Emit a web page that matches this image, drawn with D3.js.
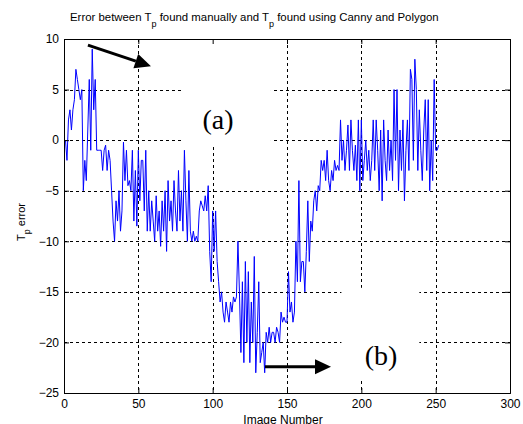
<!DOCTYPE html>
<html>
<head>
<meta charset="utf-8">
<script src="https://cdn.jsdelivr.net/npm/d3@7"></script>
<style>
  body { margin: 0; background: #fff; }
  text { font-family: "Liberation Sans", Arial, sans-serif; }
</style>
</head>
<body>
<div id="chart"></div>
<script>
// Tp error per image (image number = position + 1)
var tpError = [
  0, -2, 2, 3, 1, 3, 4, 7, 6, 5,
  4, 5, -5, -2, -4, 1, 6, -1, 9, 3,
  6, -1, -1, -1, -1, -3, -1, -0.5, -3, -1,
  -2, -5, -8, -10, -6, -8, -5, -9, -7, -0.2,
  -4, -1, -4.5, -4, -5, -1, -8, -3, -8.5, -1,
  -6, -2, -2, -7, -1, -9, -5, -9, -6, -8,
  -10, -5.5, -9, -7, -10.5, -6, -9, -5, -11, -4,
  -8, -6, -9, -4, -7, -9, -3, -8, -5, -9,
  -1, -6, -10, -3, -9, -10, -9, -10, -9.5, -10,
  -7, -6, -6.5, -7, -5.5, -7, -4.5, -11, -14, -7,
  -11, -7, -12, -14, -16, -15, -17, -18, -16, -17,
  -18, -16, -17, -15.5, -16, -15.5, -10, -15, -21, -14,
  -22, -12, -20, -13, -22, -16, -20, -11.5, -23, -19,
  -14, -22, -21, -20, -23, -19, -20, -18.5, -20, -19,
  -19, -20, -18.5, -19, -20, -17, -18, -17.5, -18, -18,
  -13, -17, -16, -18, -17, -10, -14, -4, -14, -12,
  -12, -15, -11, -6, -12, -8, -9, -6, -5, -7,
  -4.5, -5, -2, -3, -2, -4, -1, -4, -5, -3,
  -4, -2, -3, -2.5, -3, 2, -2, 0, -3, -1,
  1.5, -3, 2, -1, -3, -0.5, -4, 2, -5, 2,
  -4, -2, 0, -3, -1, -4, -2, 2, -3, 2,
  -1, -5, 1, -6, 2, -2, -4, 1, -3, 0,
  -4, 5, -2, 5, -5, 1, -3, 2, -6, -1,
  2, -3, 7, 6, -2, 8, 5, -3, 3, -1,
  -4, 1, 4, -3, 4, -5, 0, -4, 6, -1,
  -1, -0.5
];
var xTicks = [0, 50, 100, 150, 200, 250, 300];
var yTicks = [-25, -20, -15, -10, -5, 0, 5, 10];

var width = 523, height = 424;
var pl = 64, pr = 510, pt = 39, pb = 393;

var svg = d3.select("#chart").append("svg")
    .attr("width", width)
    .attr("height", height);

var x = d3.scaleLinear().domain([0, 300]).range([pl, pr]);
var y = d3.scaleLinear().domain([-25, 10]).range([pb, pt]);

// dotted grid
var grid = svg.append("g").attr("class", "grid");
grid.selectAll(".gx").data(xTicks.slice(1, -1)).enter().append("line")
    .attr("x1", function(d) { return Math.round(x(d)) + 0.5; })
    .attr("x2", function(d) { return Math.round(x(d)) + 0.5; })
    .attr("y1", pt).attr("y2", pb);
grid.selectAll(".gy").data(yTicks.slice(1, -1)).enter().append("line")
    .attr("x1", pl).attr("x2", pr)
    .attr("y1", function(d) { return Math.round(y(d)) + 0.5; })
    .attr("y2", function(d) { return Math.round(y(d)) + 0.5; });
grid.selectAll("line")
    .attr("stroke", "#000")
    .attr("stroke-width", 1)
    .attr("stroke-dasharray", "3,3");

// white boxes behind the annotation labels hide part of the grid
var boxes = [[78.7, 139.2, -0.5, 10], [186.6, 239, -14.6, -23.6]];
svg.selectAll(".box").data(boxes).enter().append("rect")
    .attr("x", function(d) { return x(d[0]); })
    .attr("width", function(d) { return x(d[1]) - x(d[0]); })
    .attr("y", function(d) { return y(Math.max(d[2], d[3])); })
    .attr("height", function(d) { return Math.abs(y(d[3]) - y(d[2])); })
    .attr("fill", "#fff");

// data line
var line = d3.line()
    .x(function(d, i) { return x(i + 1); })
    .y(function(d) { return y(d); });

svg.append("path")
    .datum(tpError)
    .attr("d", line)
    .attr("fill", "none")
    .attr("stroke", "#0000ff")
    .attr("stroke-width", 1);

// axes, ticks inside like matlab
svg.append("g")
    .attr("transform", "translate(0," + pb + ")")
    .call(d3.axisBottom(x).tickValues(xTicks).tickSize(-5).tickPadding(6));
svg.append("g")
    .attr("transform", "translate(0," + pt + ")")
    .call(d3.axisTop(x).tickValues(xTicks).tickSize(-5).tickFormat(""));
svg.append("g")
    .attr("transform", "translate(" + pl + ",0)")
    .call(d3.axisLeft(y).tickValues(yTicks).tickSize(-5).tickPadding(5));
svg.append("g")
    .attr("transform", "translate(" + pr + ",0)")
    .call(d3.axisRight(y).tickValues(yTicks).tickSize(-5).tickFormat(""));

svg.selectAll(".domain").attr("stroke", "#000");
svg.selectAll(".tick line").attr("stroke", "#000");
svg.selectAll(".tick text")
    .attr("fill", "#000")
    .attr("font-size", 12);

// title
var title = svg.append("text")
    .attr("x", 70).attr("y", 21)
    .attr("font-size", 11.4)
    .attr("fill", "#000");
title.append("tspan").text("Error between T");
title.append("tspan").attr("dy", 6).attr("font-size", 9).text("p");
title.append("tspan").attr("dy", -6).text(" found manually and T");
title.append("tspan").attr("dy", 6).attr("font-size", 9).text("p");
title.append("tspan").attr("dy", -6).text(" found using Canny and Polygon");

// axis labels
svg.append("text")
    .attr("x", (pl + pr) / 2 - 4).attr("y", 424)
    .attr("text-anchor", "middle")
    .attr("font-size", 12)
    .text("Image Number");

var ylab = svg.append("text")
    .attr("transform", "translate(25,222) rotate(-90)")
    .attr("text-anchor", "middle")
    .attr("font-size", 11);
ylab.append("tspan").text("T");
ylab.append("tspan").attr("dy", 5).attr("font-size", 9).text("p");
ylab.append("tspan").attr("dy", -5).text(" error");

// annotations
var arrows = [[16.1, 9.4, 58.5, 7.3], [135.2, -22.4, 179.6, -22.4]];
arrows.forEach(function(a) {
    var x1 = x(a[0]), y1 = y(a[1]), x2 = x(a[2]), y2 = y(a[3]);
    var ang = Math.atan2(y2 - y1, x2 - x1);
    var hl = 16, hw = 7.5;
    var bx = x2 - hl * Math.cos(ang), by = y2 - hl * Math.sin(ang);
    svg.append("line")
        .attr("x1", x1).attr("y1", y1).attr("x2", bx).attr("y2", by)
        .attr("stroke", "#000").attr("stroke-width", 3);
    var px = -Math.sin(ang) * hw, py = Math.cos(ang) * hw;
    svg.append("path")
        .attr("d", "M" + x2 + "," + y2 + "L" + (bx + px) + "," + (by + py) +
                   "L" + (bx - px) + "," + (by - py) + "Z")
        .attr("fill", "#000");
});

var labels = [["(a)", 103.6, 1.1], ["(b)", 213.2, -22.2]];
svg.selectAll(".lab").data(labels).enter().append("text")
    .attr("x", function(d) { return x(d[1]); })
    .attr("y", function(d) { return y(d[2]); })
    .attr("text-anchor", "middle")
    .style("font-family", "'Liberation Serif', 'Times New Roman', serif")
    .attr("font-size", 28)
    .text(function(d) { return d[0]; });
</script>
</body>
</html>
